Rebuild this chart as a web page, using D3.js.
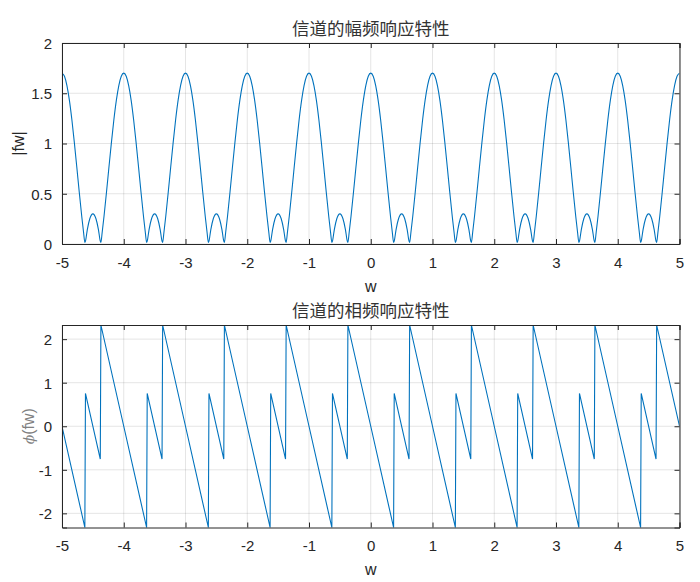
<!DOCTYPE html>
<html><head><meta charset="utf-8">
<script src="https://cdn.jsdelivr.net/npm/d3@7"></script>
<style>
html,body{margin:0;padding:0;background:#fff;}
svg{display:block;}
</style></head>
<body>
<svg id="c" width="700" height="582"></svg>
<script>
// ---- data ----
const periodStarts = [-5,-4,-3,-2,-1,0,1,2,3,4];
// magnitude within one period (offset from period start, |H|)
const magOffsets = [0,0.04,0.08,0.12,0.16,0.2,0.24,0.28,0.32,0.35,0.37,0.38,0.41,0.45,0.5,0.55,0.59,0.62,0.63,0.65,0.68,0.72,0.76,0.8,0.84,0.88,0.92,0.96];
const magValues  = [1.7,1.669,1.576,1.429,1.236,1.009,0.763,0.513,0.274,0.112,0.016,0.029,0.144,0.251,0.3,0.251,0.144,0.029,0.016,0.112,0.274,0.513,0.763,1.009,1.236,1.429,1.576,1.669];
const magEnd = [5, 1.7];
// phase within one period (vertices)
const phaseOffsets = [0,0.37,0.38,0.62,0.63];
const phaseValues  = [0,-2.325,0.754,-0.754,2.325];
const phaseEnd = [5, 0];
const xTicks = [-5,-4,-3,-2,-1,0,1,2,3,4,5];
const magTicks = [0,0.5,1,1.5,2];
const phaseTicks = [-2,-1,0,1,2];

// build tables
const magData = [];
periodStarts.forEach(p => magOffsets.forEach((o,i) => magData.push([p+o, magValues[i]])));
magData.push(magEnd);
const phaseData = [];
periodStarts.forEach(p => phaseOffsets.forEach((o,i) => phaseData.push([p+o, phaseValues[i]])));
phaseData.push(phaseEnd);

const svg = d3.select('#c');
const L = 62, R = 679.5;
const axCol = '#262626';
const lineCol = '#0072BD';
const font = '"Liberation Sans", Arial, Helvetica, sans-serif';
const cjk = '"Noto Sans CJK SC", "Liberation Sans", sans-serif';

function panel(top, bottom, yDomain, yTicks, data, title, ylabelFn, curve) {
  const x = d3.scaleLinear().domain([-5,5]).range([L,R]);
  const y = d3.scaleLinear().domain(yDomain).range([bottom,top]);
  const g = svg.append('g');
  // grid
  g.selectAll('.gx').data(xTicks).join('line')
    .attr('x1',d=>x(d)).attr('x2',d=>x(d)).attr('y1',top).attr('y2',bottom)
    .attr('stroke','#262626').attr('stroke-opacity',0.12).attr('stroke-width',1);
  g.selectAll('.gy').data(yTicks).join('line')
    .attr('y1',d=>y(d)).attr('y2',d=>y(d)).attr('x1',L).attr('x2',R)
    .attr('stroke','#262626').attr('stroke-opacity',0.12).attr('stroke-width',1);
  // line
  const clipId = 'clip'+Math.round(top);
  svg.append('clipPath').attr('id',clipId).append('rect')
    .attr('x',L).attr('y',top-1).attr('width',R-L).attr('height',bottom-top+2);
  g.append('path').datum(data)
    .attr('clip-path','url(#'+clipId+')')
    .attr('d', d3.line().x(d=>x(d[0])).y(d=>y(d[1])).curve(curve))
    .attr('fill','none').attr('stroke',lineCol).attr('stroke-width',1.1);
  // axes
  const tl = 5;
  const ax = g.append('g').attr('transform',`translate(0,${bottom})`)
    .call(d3.axisBottom(x).tickValues(xTicks).tickSize(-tl).tickPadding(10).tickFormat(d=>String(d)));
  const axT = g.append('g').attr('transform',`translate(0,${top})`)
    .call(d3.axisTop(x).tickValues(xTicks).tickSize(-tl).tickFormat(''));
  const ay = g.append('g').attr('transform',`translate(${L},0)`)
    .call(d3.axisLeft(y).tickValues(yTicks).tickSize(-tl).tickPadding(10).tickFormat(d=>String(d)));
  const ayR = g.append('g').attr('transform',`translate(${R},0)`)
    .call(d3.axisRight(y).tickValues(yTicks).tickSize(-tl).tickFormat(''));
  [ax,axT,ay,ayR].forEach(a=>{
    a.selectAll('path').attr('stroke',axCol).attr('stroke-width',1);
    a.selectAll('line').attr('stroke',axCol).attr('stroke-width',1);
    a.selectAll('text').attr('fill',axCol).style('font-family',font).style('font-size','15px');
  });
  ax.selectAll('text').attr('dy',null).attr('y',23.5);
  ay.selectAll('text').attr('dy','0.36em');
  // title
  g.append('text').attr('x',(L+R)/2).attr('y',top-8).attr('text-anchor','middle')
    .attr('fill','#333').style('font-family',cjk).style('font-size','17.5px').text(title);
  // xlabel
  g.append('text').attr('x',(L+R)/2).attr('y',bottom+47.5).attr('text-anchor','middle')
    .attr('fill',axCol).style('font-family',font).style('font-size','16px').text('w');
  ylabelFn(g, (top+bottom)/2);
}

panel(43, 244, [0,2], magTicks, magData, '信道的幅频响应特性', (g,cy)=>{
  g.append('text').attr('transform',`translate(24,${cy}) rotate(-90)`).attr('text-anchor','middle')
    .attr('fill',axCol).style('font-family',font).style('font-size','16px').text('|fw|');
}, d3.curveMonotoneX);

panel(325, 527.5, [-2.325,2.325], phaseTicks, phaseData, '信道的相频响应特性', (g,cy)=>{
  const t = g.append('text').attr('transform',`translate(34,${cy}) rotate(-90)`).attr('text-anchor','middle')
    .attr('fill','#808080').style('font-family',font).style('font-size','16px');
  t.append('tspan').style('font-family','"DejaVu Serif", serif').style('font-style','italic').style('font-size','14px').text('ϕ');
  t.append('tspan').text('(fw)');
}, d3.curveLinear);
</script>
</body></html>
